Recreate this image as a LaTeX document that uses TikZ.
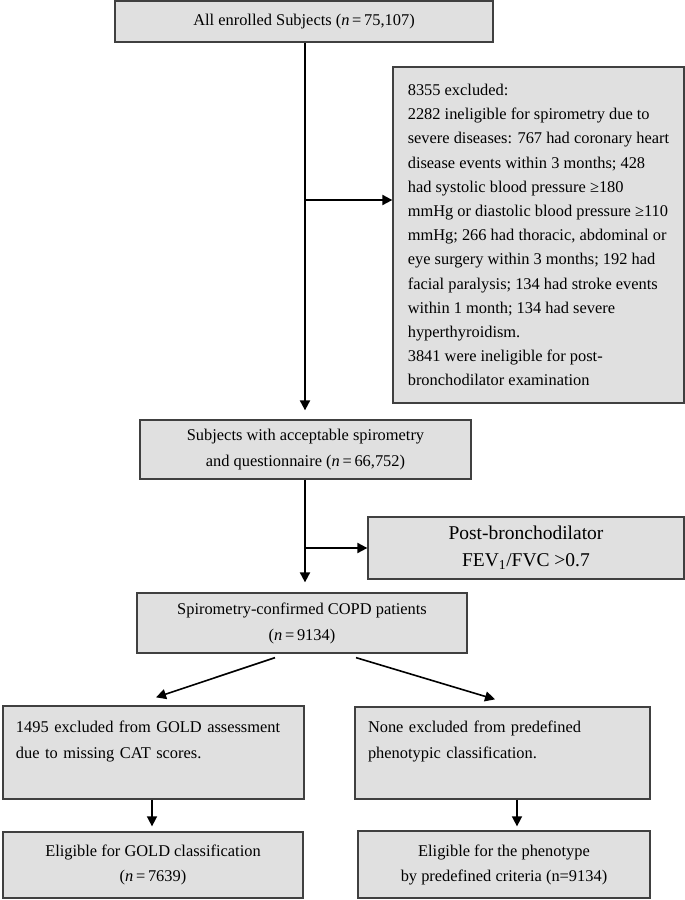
\documentclass[tikz,border=0pt]{standalone}
\usepackage{fontspec}
\setmainfont{Liberation Serif}
\usetikzlibrary{arrows.meta}
\definecolor{boxgray}{RGB}{224,224,224}
\definecolor{edgegray}{RGB}{64,64,64}

\begin{document}
\begin{tikzpicture}[x=1pt, y=-1pt, font=\fontsize{16.4}{26}\selectfont,
	box/.style={draw=edgegray, line width=1.3pt, fill=boxgray, inner sep=0pt, align=center},
	notebox/.style={box, align=left, inner xsep=13pt},
	arr/.style={-{Triangle[length=10pt, width=10pt]}, line width=2pt, black},
	thinarr/.style={arr, line width=1.6pt}]
	\useasboundingbox (0,0) rectangle (685,900);
	
	% Enrolment and spirometry
	\node[box, minimum width=378pt, minimum height=41pt] (enrol) at (304,21.5) {All enrolled Subjects (\textit{n}\,=\,75,107)};
	\node[box, align=left, minimum width=291pt, minimum height=336pt, font=\fontsize{16.4}{24.2}\selectfont] (excl) at (538.5,235) {8355 excluded:\\
		2282 ineligible for spirometry due to\\
		severe diseases: 767 had coronary heart\\
		disease events within 3 months; 428\\
		had systolic blood pressure ≥180\\
		mmHg or diastolic blood pressure ≥110\\
		mmHg; 266 had thoracic, abdominal or\\
		eye surgery within 3 months; 192 had\\
		facial paralysis; 134 had stroke events\\
		within 1 month; 134 had severe\\
		hyperthyroidism.\\
		3841 were ineligible for post-\\
		bronchodilator examination};
	\node[box, minimum width=331pt, minimum height=59pt] (accept) at (305.5,449.5) {Subjects with acceptable spirometry\\and questionnaire (\textit{n}\,=\,66,752)};
	\node[box, minimum width=316pt, minimum height=62pt, font=\fontsize{19.5}{27}\selectfont] (post) at (526,548) {Post-bronchodilator\\FEV\textsubscript{1}/FVC >0.7};
	\node[box, minimum width=330pt, minimum height=60pt] (copd) at (302,623) {Spirometry-confirmed COPD patients\\(\textit{n}\,=\,9134)};
	
	% Two branches
	\node[notebox, text width=275pt, minimum height=93pt] (goldex) at (153.5,752.5) {1495 excluded from GOLD assessment\\due to missing CAT scores.\\\mbox{}};
	\node[notebox, text width=269pt, minimum height=92pt] (phenex) at (502.5,753) {None excluded from predefined\\phenotypic classification.\\\mbox{}};
	\node[box, minimum width=300pt, minimum height=66pt, font=\fontsize{16.4}{25}\selectfont] (gold) at (153,865) {Eligible for GOLD classification\\(\textit{n}\,=\,7639)};
	\node[box, minimum width=292pt, minimum height=67pt, font=\fontsize{16.4}{25}\selectfont] (phen) at (504,864.5) {Eligible for the phenotype\\by predefined criteria (n=9134)};
	
	% Connectors
	\coordinate (split1) at (305,200);
	\coordinate (split2) at (305,548);
	\draw[arr, shorten >=9pt] (enrol.south -| split1) -- (split1 |- accept.north);
	\draw[arr] (split1) -- (split1 -| excl.west);
	\draw[arr, shorten >=10pt] (accept.south -| split2) -- (split2 |- copd.north);
	\draw[arr] (split2) -- (post.west);
	\draw[thinarr] ([xshift=-27pt, yshift=-4pt]copd.south) -- ([xshift=2.5pt, yshift=8pt]goldex.north);
	\draw[thinarr] ([xshift=54pt, yshift=-4pt]copd.south) -- ([xshift=-7.5pt, yshift=7pt]phenex.north);
	\draw[thinarr, shorten >=5pt] ([xshift=-1.5pt]goldex.south) -- ([xshift=-1.5pt]goldex.south |- gold.north);
	\draw[thinarr, shorten >=4pt] ([xshift=14.5pt]phenex.south) -- ([xshift=14.5pt]phenex.south |- phen.north);
	
\end{tikzpicture}
\end{document}
